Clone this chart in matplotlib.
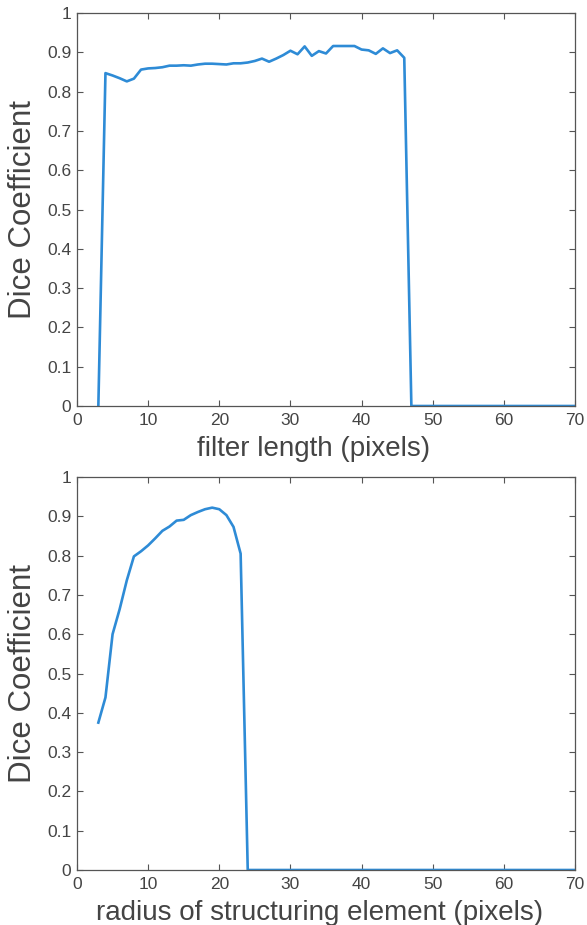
import numpy as np
import matplotlib
matplotlib.use("Agg")
import matplotlib.pyplot as plt

plt.rcParams['font.family'] = ['Liberation Sans', 'DejaVu Sans']

# filter length sweep (x = 3..70)
filter_len = list(range(3, 71))
dice_filter = [0.0,
               0.847, 0.841, 0.834, 0.826, 0.833, 0.856, 0.859, 0.860, 0.862, 0.866,
               0.866, 0.867, 0.866, 0.869, 0.871, 0.871, 0.870, 0.869, 0.872, 0.872,
               0.874, 0.878, 0.884, 0.876, 0.884, 0.893, 0.904, 0.895, 0.915, 0.891,
               0.903, 0.897, 0.916, 0.916, 0.916, 0.916, 0.907, 0.905, 0.896, 0.910,
               0.898, 0.905, 0.886] + [0.0] * 24

# structuring element radius sweep (x = 3..70)
radius = list(range(3, 71))
dice_radius = [0.375, 0.439, 0.600, 0.664, 0.737, 0.798, 0.811, 0.826, 0.844, 0.863,
               0.874, 0.889, 0.891, 0.903, 0.911, 0.918, 0.922, 0.918, 0.903, 0.873,
               0.805] + [0.0] * 47

yticks = [0, 0.1, 0.2, 0.3, 0.4, 0.5, 0.6, 0.7, 0.8, 0.9, 1]
ytick_labels = ['0', '0.1', '0.2', '0.3', '0.4', '0.5', '0.6', '0.7', '0.8', '0.9', '1']
xticks = [0, 10, 20, 30, 40, 50, 60, 70]

line_color = '#2e8bd6'
axis_color = '#555555'
text_color = '#444444'

W, H = 587, 925
fig = plt.figure(figsize=(W / 100, H / 100), dpi=100)
ax1 = fig.add_axes([77 / W, (H - 406) / H, 498 / W, 393 / H])
ax2 = fig.add_axes([77 / W, (H - 870) / H, 498 / W, 393 / H])

# (axes, x, y, x label, label centre x px, label centre y px)
panels = [(ax1, filter_len, dice_filter, 'filter length (pixels)', 314, 449),
          (ax2, radius, dice_radius, 'radius of structuring element (pixels)', 320, 913)]

for ax, xs, ys, xlabel, lx, ly in panels:
    ax.plot(xs, ys, color=line_color, linewidth=1.9, solid_joinstyle='round')
    ax.set_xlim(0, 70)
    ax.set_ylim(0, 1)
    ax.set_xticks(xticks)
    ax.set_yticks(yticks)
    ax.set_yticklabels(ytick_labels)
    ax.tick_params(direction='in', top=True, right=True, length=4, width=0.8,
                   colors=axis_color, labelcolor=text_color, labelsize=12.5)
    ax.tick_params(axis='x', pad=5)
    ax.tick_params(axis='y', pad=4)
    for s in ax.spines.values():
        s.set_color(axis_color)
        s.set_linewidth(0.9)
    fig.text(lx / W, 1 - ly / H, xlabel, fontsize=20, color=text_color,
             ha='center', va='center')
    pos = ax.get_position()
    fig.text(23 / W, pos.y0 + pos.height / 2, 'Dice Coefficient', fontsize=22.5,
             color=text_color, rotation=90, ha='center', va='center')

fig.savefig('out.png', dpi=100)
